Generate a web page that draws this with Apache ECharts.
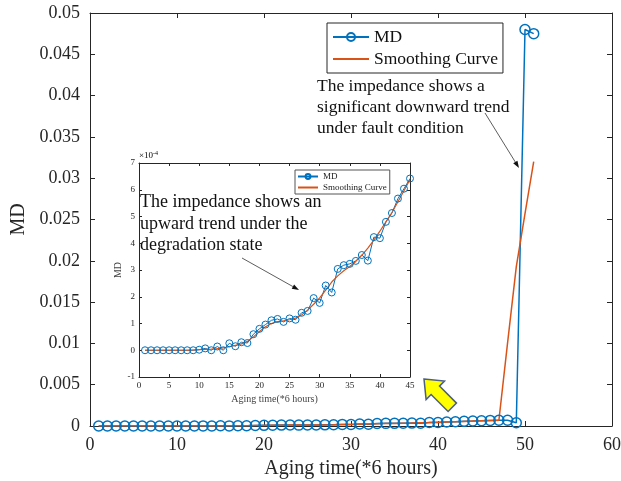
<!DOCTYPE html>
<html lang="en">
<head>
    <meta charset="UTF-8">
    <title>MD vs aging time</title>
    <script type="text/javascript" src="https://cdn.jsdelivr.net/npm/echarts@6/dist/echarts.min.js"></script>
</head>
<body style="margin:0;background:#fff;">
<div id="myChart" style="width:621px;height:481px;"></div>
<script type="text/javascript">
    // MD during degradation, units of 1e-4 (aging time 1..45)
    var mdDegr = [0, 0, 0, 0, 0, 0, 0, 0, 0, 0.02, 0.07, 0.0, 0.14, 0.0, 0.26,
                  0.15, 0.3, 0.27, 0.6, 0.8, 0.96, 1.12, 1.17, 1.06, 1.19,
                  1.14, 1.4, 1.47, 1.95, 1.77, 2.42, 2.16, 3.04, 3.18, 3.23,
                  3.34, 3.56, 3.35, 4.23, 4.19, 4.8, 5.13, 5.67, 6.04, 6.42];
    var smoothDegr = [0, 0, 0, 0, 0, 0, 0, 0, 0.01, 0.02, 0.03, 0.04, 0.06, 0.09, 0.13,
                      0.18, 0.24, 0.33, 0.5, 0.7, 0.88, 1.0, 1.07, 1.1, 1.14,
                      1.2, 1.32, 1.5, 1.72, 1.96, 2.25, 2.55, 2.78, 2.97, 3.13,
                      3.32, 3.55, 3.82, 4.12, 4.45, 4.8, 5.15, 5.55, 5.96, 6.38];
    // fault stage (aging time 46..51), real MD units
    var mdFault = [0.00068, 0.0007, 0.0007, 0.0004, 0.048, 0.0475];
    var smoothFault = [0.00068, 0.0007, 0.0101, 0.0193, 0.0257, 0.032];

    var blue = '#0072BD';
    var orange = '#D95319';
    var axisColor = '#262626';
    var serif = '"Liberation Serif", "Times New Roman", serif';

    function pairs(arr, scale, start) {
        return arr.map(function (v, i) { return [start + i, v * scale]; });
    }
    var mainMD = pairs(mdDegr, 1e-4, 1).concat(pairs(mdFault, 1, 46));
    var mainSmooth = pairs(smoothDegr, 1e-4, 1).concat(pairs(smoothFault, 1, 46));
    var insetMD = pairs(mdDegr, 1, 1);
    var insetSmooth = pairs(smoothDegr, 1, 1);

    function axis(grid, pos, min, max, interval, fs, margin, tick, labels, extra) {
        var a = {
            gridIndex: grid, type: 'value', position: pos,
            min: min, max: max, interval: interval,
            axisLine: {show: true, onZero: false, lineStyle: {color: axisColor, width: 1}},
            axisTick: {show: true, inside: true, length: tick, lineStyle: {color: axisColor}},
            axisLabel: {show: labels, fontFamily: serif, fontSize: fs, color: axisColor, margin: margin},
            splitLine: {show: false}
        };
        for (var k in extra) a[k] = extra[k];
        return a;
    }

    function arrow(x1, y1, x2, y2, len, w) {
        var a = Math.atan2(y2 - y1, x2 - x1);
        var bx = x2 - len * Math.cos(a), by = y2 - len * Math.sin(a);
        var px = -Math.sin(a) * w, py = Math.cos(a) * w;
        return [
            {type: 'line', shape: {x1: x1, y1: y1, x2: bx, y2: by}, style: {stroke: '#333', lineWidth: 0.8}, z: 100},
            {type: 'polygon', shape: {points: [[x2, y2], [bx + px, by + py], [bx - px, by - py]]}, style: {fill: '#111'}, z: 100}
        ];
    }

    // legend entries: the smoothing curve shows only its line
    function legendData() {
        return [
            {name: 'MD'},
            {name: 'Smoothing Curve', itemStyle: {color: 'rgba(0,0,0,0)', borderWidth: 0, opacity: 0}}
        ];
    }

    var myChart = echarts.init(document.getElementById('myChart'));

    var graphics = [
        {
            type: 'text', left: 317, top: 76, z: 100,
            style: {
                text: 'The impedance shows a\nsignificant downward trend\nunder fault condition',
                font: '17.5px ' + serif, fill: '#111', lineHeight: 21
            }
        },
        {
            type: 'text', left: 140, top: 192, z: 100,
            style: {
                text: 'The impedance shows an\nupward trend under the\ndegradation state',
                font: '18px ' + serif, fill: '#111', lineHeight: 21.5
            }
        },
        {
            type: 'text', left: 139, top: 150, z: 100,
            style: {
                text: '{a|×10}{b|-4}',
                rich: {
                    a: {fontFamily: serif, fontSize: 9, color: '#444'},
                    b: {fontFamily: serif, fontSize: 6, color: '#444', verticalAlign: 'top', padding: [0, 0, 6, 0]}
                }
            }
        },
        {
            type: 'polygon', z: 100,
            shape: {points: [[424, 379], [444.5, 381.1], [439.5, 386.1], [456.5, 403.1],
                             [448.1, 411.5], [431.1, 394.5], [426.1, 399.5]]},
            style: {fill: '#FFFF00', stroke: '#4d5f86', lineWidth: 1.5}
        }
    ].concat(arrow(485, 113, 519, 168, 7, 2.5)).concat(arrow(242, 258, 299, 290, 7, 2.5));

    var option = {
        animation: false,
        backgroundColor: '#fff',
        grid: [
            {left: 90, top: 13, width: 522, height: 413, containLabel: false, outerBoundsMode: 'none'},
            {left: 139, top: 163, width: 271, height: 214, containLabel: false, outerBoundsMode: 'none'}
        ],
        xAxis: [
            axis(0, 'bottom', 0, 60, 10, 18, 10, 5, true, {
                name: 'Aging time(*6 hours)', nameLocation: 'middle', nameGap: 29,
                nameTextStyle: {fontFamily: serif, fontSize: 20, color: axisColor}
            }),
            axis(0, 'top', 0, 60, 10, 18, 9, 5, false, {}),
            axis(1, 'bottom', 0, 45, 5, 9, 4, 3, true, {
                name: 'Aging time(*6 hours)', nameLocation: 'middle', nameGap: 17,
                nameTextStyle: {fontFamily: serif, fontSize: 10, color: '#444'}
            }),
            axis(1, 'top', 0, 45, 5, 9, 4, 3, false, {})
        ],
        yAxis: [
            axis(0, 'left', 0, 0.05, 0.005, 18, 10, 5, true, {
                name: 'MD', nameLocation: 'middle', nameGap: 58,
                nameTextStyle: {fontFamily: serif, fontSize: 20, color: axisColor}
            }),
            axis(0, 'right', 0, 0.05, 0.005, 18, 10, 5, false, {}),
            axis(1, 'left', -1, 7, 1, 9, 4, 3, true, {
                name: 'MD', nameLocation: 'middle', nameGap: 15,
                nameTextStyle: {fontFamily: serif, fontSize: 10, color: '#444'}
            }),
            axis(1, 'right', -1, 7, 1, 9, 4, 3, false, {})
        ],
        legend: [
            {
                data: legendData(), orient: 'vertical', left: 327, top: 23,
                itemWidth: 36, itemHeight: 10, itemGap: 4, padding: [5, 5, 5, 5],
                borderColor: axisColor, borderWidth: 1, backgroundColor: '#fff',
                textStyle: {fontFamily: serif, fontSize: 17.5, color: '#111'}
            },
            {
                data: legendData(), orient: 'vertical', left: 295, top: 170,
                itemWidth: 20, itemHeight: 6, itemGap: 2, padding: [2, 3, 2, 2],
                borderColor: '#555', borderWidth: 1, backgroundColor: '#fff',
                textStyle: {fontFamily: serif, fontSize: 9, color: '#222'}
            }
        ],
        series: [
            {
                name: 'MD', type: 'line', xAxisIndex: 0, yAxisIndex: 0, data: mainMD,
                symbol: 'circle', symbolSize: 10,
                lineStyle: {color: blue, width: 1.5},
                itemStyle: {color: 'rgba(0,0,0,0)', borderColor: blue, borderWidth: 1.5}
            },
            {
                name: 'Smoothing Curve', type: 'line', xAxisIndex: 0, yAxisIndex: 0, data: mainSmooth,
                showSymbol: false, symbol: 'none',
                lineStyle: {color: orange, width: 1.5}, itemStyle: {color: orange}
            },
            {
                name: 'MD', type: 'line', xAxisIndex: 2, yAxisIndex: 2, data: insetMD,
                symbol: 'circle', symbolSize: 7,
                lineStyle: {color: blue, width: 1},
                itemStyle: {color: 'rgba(0,0,0,0)', borderColor: blue, borderWidth: 1}
            },
            {
                name: 'Smoothing Curve', type: 'line', xAxisIndex: 2, yAxisIndex: 2, data: insetSmooth,
                showSymbol: false, symbol: 'none',
                lineStyle: {color: orange, width: 1.2}, itemStyle: {color: orange}
            }
        ],
        graphic: graphics
    };
    myChart.setOption(option);
</script>
</body>
</html>
